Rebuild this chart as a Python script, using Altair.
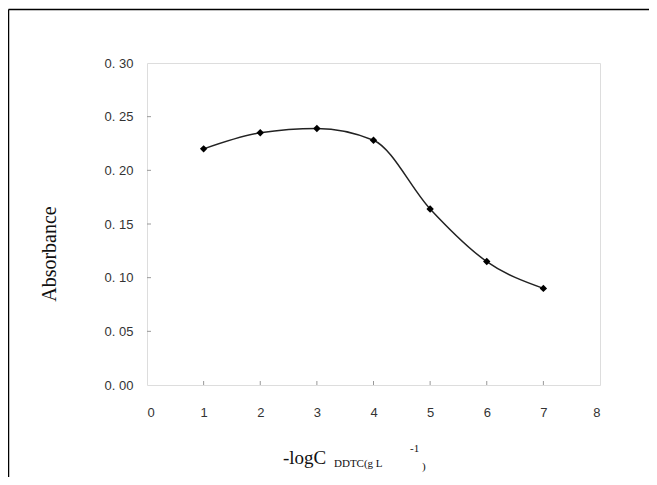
import altair as alt
import pandas as pd

x_vals = [1, 2, 3, 4, 5, 6, 7]
absorbance = [0.220, 0.235, 0.239, 0.228, 0.164, 0.115, 0.090]
x_ticks = [0, 1, 2, 3, 4, 5, 6, 7, 8]
y_ticks = [0.0, 0.05, 0.10, 0.15, 0.20, 0.25, 0.30]

df = pd.DataFrame({"x": x_vals, "y": absorbance})
xt = pd.DataFrame({"x": x_ticks[1:-1]})
yt = pd.DataFrame({"y": y_ticks[1:-1]})
one = pd.DataFrame({"k": [0]})

W, H = 453, 322
SERIF = "Times New Roman, Liberation Serif, DejaVu Serif, serif"

xscale = alt.Scale(domain=[0, 8], nice=False, zero=False)
yscale = alt.Scale(domain=[0, 0.30], nice=False)

base = alt.Chart(df)

line = base.mark_line(interpolate="monotone", color="#222", strokeWidth=1.5).encode(
    x=alt.X("x:Q", scale=xscale,
            axis=alt.Axis(values=x_ticks, title=None, grid=False, domain=False, ticks=False,
                          labelPadding=21, labelFont="Liberation Sans", labelFontSize=13,
                          labelColor="#333", format="d")),
    y=alt.Y("y:Q", scale=yscale,
            axis=alt.Axis(values=y_ticks, title=None, grid=False, domain=False, ticks=False,
                          labelPadding=14, labelFont="Liberation Sans", labelFontSize=13,
                          labelColor="#333",
                          labelExpr="replace(format(datum.value, '.2f'), '.', '. ')")),
)
pts = base.mark_point(shape="diamond", filled=True, color="#000", size=55, opacity=1).encode(
    x=alt.X("x:Q", scale=xscale), y=alt.Y("y:Q", scale=yscale)
)

xticks_m = alt.Chart(xt).mark_rule(color="#999", strokeWidth=1).encode(
    x=alt.X("x:Q", scale=xscale), y=alt.value(H), y2=alt.value(H - 4)
)
yticks_m = alt.Chart(yt).mark_rule(color="#999", strokeWidth=1).encode(
    y=alt.Y("y:Q", scale=yscale), x=alt.value(0), x2=alt.value(4)
)

frame_top = alt.Chart(one).mark_rule(color="#000", strokeWidth=1.5).encode(
    x=alt.value(-138.5), x2=alt.value(520), y=alt.value(-53.5)
)
frame_left = alt.Chart(one).mark_rule(color="#000", strokeWidth=1.5).encode(
    x=alt.value(-138.5), y=alt.value(-53.5), y2=alt.value(440)
)

def txt(t, x, y, size):
    return alt.Chart(pd.DataFrame({"t": [t]})).mark_text(
        font=SERIF, fontSize=size, fontWeight="normal",
        color="#111", align="left", baseline="alphabetic").encode(
        text="t:N", x=alt.value(x), y=alt.value(y))

title_parts = [
    txt("-logC", 136, 401, 19),
    txt("DDTC(g L", 187, 404, 11),
    txt("-1", 263, 389, 11),
    txt(")", 275, 407, 11),
]
ytitle = alt.Chart(pd.DataFrame({"t": ["Absorbance"]})).mark_text(
    font=SERIF, fontSize=20, fontWeight="normal",
    color="#111", angle=270, align="center", baseline="middle").encode(
    text="t:N", x=alt.value(-97), y=alt.value(191))

chart = alt.layer(frame_top, frame_left, xticks_m, yticks_m, line, pts, ytitle, *title_parts).properties(
    width=W, height=H,
    autosize=alt.AutoSizeParams(type="none"),
    padding={"left": 139, "top": 55, "right": 49, "bottom": 92},
).configure_view(stroke="#999", strokeWidth=1.5).configure(background="white")

chart.save("out.html", embed_options={"renderer": "svg", "actions": False})
